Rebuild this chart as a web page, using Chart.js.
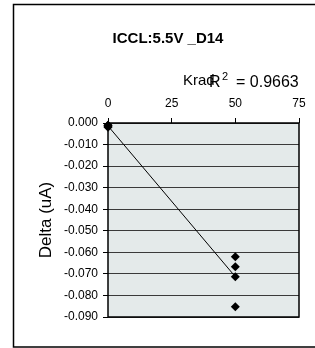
<!DOCTYPE html>
<html>
<head>
<meta charset="utf-8">
<script src="https://cdn.jsdelivr.net/npm/chart.js@4.4.1/dist/chart.umd.min.js"></script>
<style>
  html, body { margin: 0; padding: 0; background: #fff; }
  #wrap { width: 315px; height: 348px; position: relative; }
</style>
</head>
<body>
<div id="wrap"><canvas id="c" width="315" height="348"></canvas></div>
<script>
// ---- data ----
const chartTitle = "ICCL:5.5V _D14";
const xTitle = "Krad";
const yTitle = "Delta (uA)";
const rSquaredValue = "0.9663";
const doseKrad = [0, 0, 0, 0, 50, 50, 50, 50];
const deltaUA = [-0.001, -0.0015, -0.002, -0.001, -0.0620, -0.0667, -0.0713, -0.0853];
const xTicks = [0, 25, 50, 75];
const yTicks = [0, -0.01, -0.02, -0.03, -0.04, -0.05, -0.06, -0.07, -0.08, -0.09];

// least-squares trendline through the data (as the spreadsheet's linear trendline)
function linearFit(xs, ys) {
  const n = xs.length;
  const mx = xs.reduce((a, b) => a + b, 0) / n;
  const my = ys.reduce((a, b) => a + b, 0) / n;
  let sxy = 0, sxx = 0;
  for (let i = 0; i < n; i++) { sxy += (xs[i] - mx) * (ys[i] - my); sxx += (xs[i] - mx) ** 2; }
  const slope = sxy / sxx;
  return { slope, intercept: my - slope * mx };
}
const fit = linearFit(doseKrad, deltaUA);
const xMinData = Math.min(...doseKrad), xMaxData = Math.max(...doseKrad);
const trendPoints = [xMinData, xMaxData].map(x => ({ x, y: fit.intercept + fit.slope * x }));
const scatterPoints = doseKrad.map((x, i) => ({ x, y: deltaUA[i] }));

const FONT = "'Liberation Sans', Arial, sans-serif";

const decorPlugin = {
  id: 'decor',
  beforeDraw(chart) {
    const { ctx, chartArea: a } = chart;
    ctx.save();
    ctx.fillStyle = '#ffffff';
    ctx.fillRect(0, 0, chart.width, chart.height);
    // outer frame
    ctx.strokeStyle = '#000';
    ctx.lineWidth = 1.5;
    ctx.strokeRect(13.5, 4.5, 320, 342.5);
    // plot background
    ctx.fillStyle = '#e4eaea';
    ctx.fillRect(a.left, a.top, a.right - a.left, a.bottom - a.top);
    ctx.restore();
  },
  beforeDatasetsDraw(chart) {
    const { ctx, chartArea: a } = chart;
    ctx.save();
    ctx.strokeStyle = '#000';
    ctx.lineWidth = 1.5;
    ctx.strokeRect(a.left, a.top, a.right - a.left, a.bottom - a.top);
    ctx.restore();
  },
  afterDraw(chart) {
    const { ctx } = chart;
    ctx.save();
    ctx.fillStyle = '#000';
    ctx.textBaseline = 'alphabetic';
    // main title
    ctx.font = "bold 15px " + FONT;
    ctx.textAlign = 'center';
    ctx.fillText(chartTitle, 168, 43);
    // x axis title
    ctx.font = "15px " + FONT;
    ctx.textAlign = 'left';
    ctx.fillText(xTitle, 183, 85);
    // R squared label: R, superscript 2, " = value"
    ctx.font = "16px " + FONT;
    ctx.fillText("R", 209, 87);
    ctx.font = "11px " + FONT;
    ctx.fillText("2", 222, 80);
    ctx.font = "16px " + FONT;
    ctx.fillText("= " + rSquaredValue, 236, 87);
    ctx.restore();
  }
};

new Chart(document.getElementById('c'), {
  type: 'scatter',
  data: {
    datasets: [
      {
        type: 'line',
        data: trendPoints,
        borderColor: '#000',
        borderWidth: 1,
        pointRadius: 0,
        fill: false,
        order: 1
      },
      {
        data: scatterPoints,
        pointStyle: 'rectRot',
        pointRadius: 4.5,
        backgroundColor: '#000',
        borderColor: '#000',
        borderWidth: 0,
        clip: false,
        order: 0
      }
    ]
  },
  options: {
    responsive: false,
    animation: false,
    devicePixelRatio: 1,
    layout: { padding: { top: 0, left: 0, right: 16, bottom: 31 } },
    plugins: { legend: { display: false }, title: { display: false }, tooltip: { enabled: false } },
    scales: {
      x: {
        type: 'linear',
        position: 'top',
        min: 0, max: 75,
        afterBuildTicks(scale) { scale.ticks = xTicks.map(v => ({ value: v })); },
        afterFit(scale) { scale.height = 123; },
        ticks: { color: '#000', font: { family: FONT, size: 12 }, padding: 7, maxRotation: 0 },
        grid: { drawOnChartArea: false, drawTicks: true, tickLength: 5, tickColor: '#000', tickWidth: 1 },
        border: { display: false }
      },
      y: {
        type: 'linear',
        position: 'left',
        min: -0.09, max: 0,
        afterBuildTicks(scale) { scale.ticks = yTicks.map(v => ({ value: v })); },
        afterFit(scale) { scale.width = 108; },
        ticks: { color: '#000', font: { family: FONT, size: 12 }, padding: 5,
                 callback: v => Number(v).toFixed(3) },
        grid: { color: '#3a3a3a', lineWidth: 1, drawTicks: true, tickLength: 5, tickColor: '#000' },
        border: { display: false },
        title: { display: true, text: yTitle, color: '#000', font: { family: FONT, size: 17 },
                 padding: { top: 36, bottom: 0 } }
      }
    }
  },
  plugins: [decorPlugin]
});
</script>
</body>
</html>
